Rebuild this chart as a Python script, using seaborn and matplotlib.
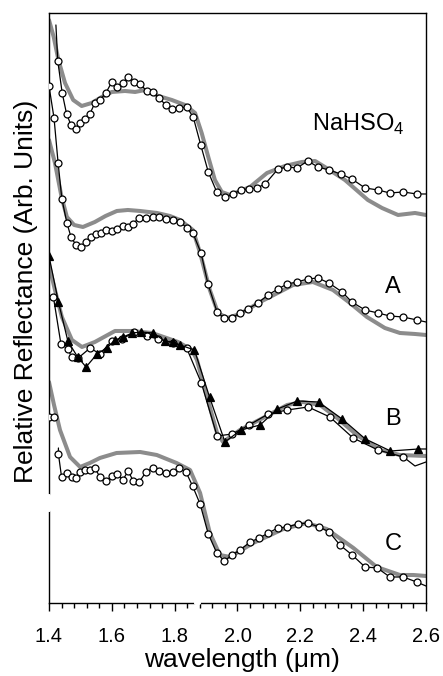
import matplotlib
matplotlib.use("Agg")
import matplotlib.pyplot as plt
import seaborn as sns

# gray = library spectrum, black = measured. y is offset reflectance (arb. units)
nahso4_ref_wl = [1.400, 1.415, 1.430, 1.451, 1.477, 1.504, 1.536, 1.568, 1.600, 1.642, 1.674, 1.706,
                 1.748, 1.791, 1.833, 1.865, 1.886, 1.907, 1.928, 1.950, 1.976, 2.040, 2.094,
                 2.151, 2.205, 2.247, 2.278, 2.342, 2.415, 2.460, 2.511, 2.565, 2.600]
nahso4_ref = [5.83, 5.66, 5.43, 5.20, 5.03, 4.97, 5.00, 5.06, 5.11, 5.12, 5.11, 5.13,
              5.07, 5.03, 4.98, 4.90, 4.70, 4.46, 4.23, 4.11, 4.08, 4.16, 4.30,
              4.37, 4.41, 4.42, 4.36, 4.23, 4.03, 3.95, 3.88, 3.90, 3.88]
nahso4_obs_wl = [1.422, 1.428, 1.442, 1.456, 1.470, 1.486, 1.499, 1.515, 1.530, 1.546, 1.562,
                 1.581, 1.600, 1.615, 1.635, 1.652, 1.672, 1.690, 1.711, 1.732, 1.751, 1.771,
                 1.792, 1.815, 1.838, 1.859, 1.883, 1.907, 1.934, 1.960, 1.986, 2.011, 2.036,
                 2.062, 2.088, 2.129, 2.158, 2.189, 2.224, 2.256, 2.291, 2.329, 2.364, 2.406,
                 2.447, 2.485, 2.527, 2.571, 2.600]
nahso4_obs = [5.78, 5.42, 5.10, 4.89, 4.78, 4.74, 4.80, 4.84, 4.89, 5.00, 5.03,
              5.10, 5.21, 5.16, 5.20, 5.26, 5.21, 5.19, 5.12, 5.11, 5.05, 4.98,
              4.94, 4.95, 4.96, 4.86, 4.58, 4.31, 4.11, 4.06, 4.09, 4.13, 4.14,
              4.15, 4.19, 4.34, 4.36, 4.35, 4.42, 4.36, 4.33, 4.29, 4.24, 4.15,
              4.13, 4.10, 4.11, 4.09, 4.09]

a_ref_wl = [1.400, 1.419, 1.440, 1.457, 1.480, 1.508, 1.546, 1.580, 1.616, 1.651, 1.690, 1.744,
            1.785, 1.817, 1.858, 1.881, 1.912, 1.938, 1.967, 2.008, 2.072, 2.177, 2.240,
            2.304, 2.358, 2.412, 2.469, 2.517, 2.565, 2.600]
a_ref = [4.63, 4.40, 4.06, 3.86, 3.78, 3.76, 3.81, 3.87, 3.92, 3.93, 3.92, 3.90,
         3.87, 3.83, 3.73, 3.50, 3.13, 2.90, 2.85, 2.89, 3.01, 3.18, 3.21,
         3.13, 3.00, 2.86, 2.75, 2.70, 2.69, 2.68]
a_obs_wl = [1.400, 1.416, 1.429, 1.441, 1.457, 1.470, 1.486, 1.502, 1.518, 1.534, 1.550,
            1.566, 1.581, 1.601, 1.616, 1.636, 1.651, 1.667, 1.686, 1.709, 1.731, 1.750,
            1.772, 1.795, 1.817, 1.839, 1.858, 1.884, 1.906, 1.935, 1.957, 1.982, 2.008,
            2.033, 2.065, 2.097, 2.129, 2.158, 2.189, 2.224, 2.256, 2.291, 2.333, 2.364,
            2.406, 2.447, 2.485, 2.527, 2.571, 2.600]
a_obs = [5.17, 4.85, 4.40, 4.04, 3.80, 3.66, 3.58, 3.56, 3.61, 3.66, 3.69,
         3.70, 3.73, 3.72, 3.74, 3.77, 3.76, 3.79, 3.85, 3.85, 3.86, 3.86,
         3.84, 3.83, 3.81, 3.75, 3.70, 3.50, 3.19, 2.91, 2.85, 2.85, 2.90,
         2.94, 3.00, 3.08, 3.14, 3.19, 3.21, 3.24, 3.25, 3.20, 3.11, 3.01,
         2.93, 2.90, 2.87, 2.86, 2.83, 2.81]

b_ref_wl = [1.400, 1.419, 1.441, 1.473, 1.505, 1.546, 1.610, 1.664, 1.728, 1.811, 1.855,
            1.871, 1.903, 1.935, 1.954, 2.008, 2.081, 2.158, 2.208, 2.263, 2.317, 2.380,
            2.454, 2.517, 2.600]
b_ref = [3.38, 3.13, 2.86, 2.63, 2.56, 2.61, 2.72, 2.72, 2.70, 2.61, 2.53,
         2.43, 2.06, 1.70, 1.61, 1.73, 1.85, 1.98, 2.01, 1.98, 1.85, 1.68,
         1.53, 1.48, 1.47]
b_obs1_wl = [1.414, 1.438, 1.460, 1.472, 1.493, 1.531, 1.562, 1.600, 1.633, 1.672, 1.711,
             1.748, 1.794, 1.838, 1.885, 1.935, 1.984, 2.037, 2.098, 2.158, 2.225, 2.294,
             2.368, 2.447, 2.528, 2.565, 2.600]
b_obs1 = [3.06, 2.59, 2.54, 2.46, 2.45, 2.55, 2.49, 2.62, 2.64, 2.71, 2.67,
          2.64, 2.60, 2.55, 2.20, 1.67, 1.69, 1.78, 1.89, 1.93, 1.96, 1.86,
          1.65, 1.53, 1.46, 1.37, 1.41]
b_obs2_wl = [1.400, 1.430, 1.460, 1.491, 1.518, 1.553, 1.584, 1.610, 1.636, 1.665, 1.693,
             1.731, 1.769, 1.796, 1.817, 1.863, 1.911, 1.960, 2.011, 2.072, 2.127, 2.191,
             2.258, 2.333, 2.407, 2.487, 2.576, 2.600]
b_obs2 = [3.47, 3.01, 2.62, 2.46, 2.36, 2.49, 2.55, 2.63, 2.66, 2.70, 2.71,
          2.70, 2.62, 2.61, 2.58, 2.53, 2.06, 1.61, 1.73, 1.78, 1.94, 2.02,
          2.01, 1.84, 1.64, 1.52, 1.54, 1.54]

c_ref_wl = [1.400, 1.416, 1.435, 1.467, 1.499, 1.530, 1.562, 1.615, 1.690, 1.743, 1.806,
            1.849, 1.881, 1.912, 1.944, 1.976, 2.050, 2.146, 2.220, 2.284, 2.369, 2.443,
            2.517, 2.560, 2.600]
c_ref = [2.21, 1.98, 1.73, 1.46, 1.36, 1.40, 1.45, 1.50, 1.51, 1.48, 1.40,
         1.33, 1.10, 0.70, 0.48, 0.46, 0.60, 0.74, 0.80, 0.74, 0.55, 0.36,
         0.28, 0.28, 0.27]
c_obs_head_wl = [1.400, 1.416]
c_obs_head = [1.86, 1.86]
c_obs_wl = [1.430, 1.430, 1.440, 1.456, 1.472, 1.486, 1.499, 1.515, 1.530, 1.546, 1.562,
            1.581, 1.600, 1.617, 1.635, 1.652, 1.668, 1.687, 1.709, 1.730, 1.751, 1.772,
            1.794, 1.815, 1.836, 1.857, 1.881, 1.907, 1.934, 1.958, 1.983, 2.008, 2.040,
            2.069, 2.098, 2.128, 2.157, 2.192, 2.223, 2.260, 2.292, 2.326, 2.365, 2.406,
            2.445, 2.485, 2.528, 2.570, 2.600]
c_obs = [1.55, 1.49, 1.26, 1.30, 1.26, 1.25, 1.31, 1.33, 1.33, 1.35, 1.26,
         1.22, 1.27, 1.29, 1.23, 1.32, 1.22, 1.21, 1.31, 1.35, 1.32, 1.30,
         1.31, 1.35, 1.31, 1.17, 0.99, 0.69, 0.50, 0.42, 0.48, 0.53, 0.61,
         0.65, 0.70, 0.75, 0.76, 0.79, 0.80, 0.76, 0.71, 0.58, 0.48, 0.36,
         0.35, 0.26, 0.26, 0.21, 0.17]

labels = ['NaHSO$_4$', 'A', 'B', 'C']

sns.set_style("ticks")
plt.rcParams['font.family'] = ['Liberation Sans', 'DejaVu Sans']
plt.rcParams['mathtext.fontset'] = 'custom'
plt.rcParams['mathtext.rm'] = 'Liberation Sans'
plt.rcParams['text.color'] = 'black'
plt.rcParams['axes.labelcolor'] = 'black'
plt.rcParams['xtick.color'] = 'black'
plt.rcParams['xtick.labelcolor'] = 'black'

fig = plt.figure(figsize=(4.43, 6.76), dpi=100)
ax = fig.add_axes([0.1106, 0.108, 0.851, 0.8728])

GRAY = '#8c8c8c'


def ref_line(x, y):
    sns.lineplot(x=x, y=y, sort=False, estimator=None, ax=ax, color=GRAY,
                 lw=2.9, zorder=2)


def obs_line(x, y, marker='o', marks=slice(None), fill='white', ms=5.0):
    sns.lineplot(x=x, y=y, sort=False, estimator=None, ax=ax, color='black',
                 lw=0.9, marker=marker, markevery=marks, ms=ms,
                 mfc=fill, mec='black', mew=0.9, zorder=3)


ref_line(nahso4_ref_wl, nahso4_ref)
obs_line(nahso4_obs_wl, nahso4_obs, marks=slice(1, -1))

ref_line(a_ref_wl, a_ref)
obs_line(a_obs_wl, a_obs, marks=slice(0, -1))

ref_line(b_ref_wl, b_ref)
obs_line(b_obs1_wl, b_obs1, marks=slice(0, -2))
obs_line(b_obs2_wl, b_obs2, marker='^', marks=slice(0, -1), fill='black', ms=6)

ref_line(c_ref_wl, c_ref)
obs_line(c_obs_head_wl, c_obs_head)
obs_line(c_obs_wl, c_obs, marks=slice(1, -1))

# curve names
ax.text(2.237, 4.72, labels[0], fontsize=17, ha='left', va='baseline')
ax.text(2.495, 3.10, labels[1], fontsize=17, ha='center', va='baseline')
ax.text(2.495, 1.78, labels[2], fontsize=17, ha='center', va='baseline')
ax.text(2.495, 0.53, labels[3], fontsize=17, ha='center', va='baseline')

ax.set_xlim(1.4, 2.6)
ax.set_ylim(0, 5.9)
ax.set_xticks([1.4, 1.6, 1.8, 2.0, 2.2, 2.4, 2.6])
ax.set_xticklabels(['1.4', '1.6', '1.8', '2.0', '2.2', '2.4', '2.6'])
ax.set_xticks([1.4 + 0.04 * i for i in range(31)], minor=True)
ax.set_yticks([])
ax.tick_params(axis='x', which='major', direction='out', length=6, width=1.0,
               pad=11, labelsize=14.5, color='black')
ax.tick_params(axis='x', which='minor', direction='out', length=3.5, width=1.0,
               color='black')
for s in ax.spines.values():
    s.set_visible(True)
    s.set_color('black')
    s.set_linewidth(1.0)

ax.set_xlabel('wavelength (μm)', fontsize=19)
ax.set_ylabel('Relative Reflectance (Arb. Units)', fontsize=19)
ax.xaxis.set_label_coords(0.511, -0.077)
ax.yaxis.set_label_coords(-0.028, 0.528)

# small breaks in the scanned frame
ax.plot([0, 0], [0.158, 0.181], transform=ax.transAxes, color='white',
        lw=3, clip_on=False, zorder=10)
ax.plot([0.390, 0.398], [0, 0], transform=ax.transAxes, color='white',
        lw=3, clip_on=False, zorder=10)

fig.savefig('out.png', dpi=100)
